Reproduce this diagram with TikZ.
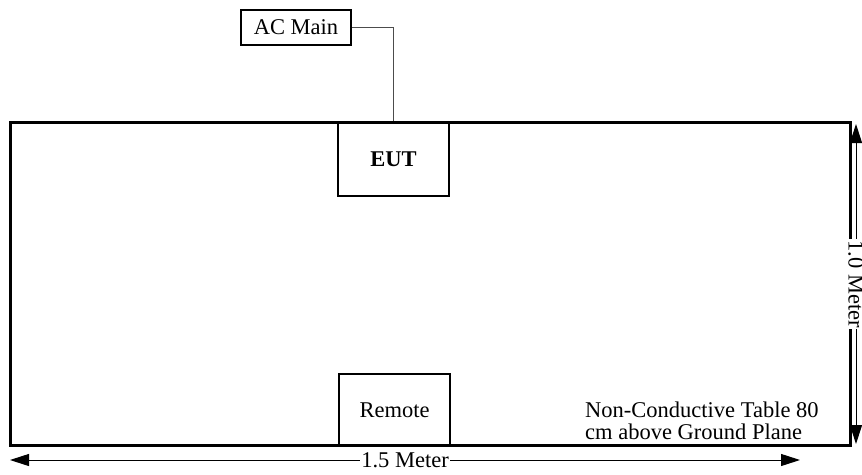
\documentclass[tikz,border=0pt]{standalone}
\usepackage{fontspec}
\setmainfont{Liberation Serif}
\usetikzlibrary{arrows.meta}
\begin{document}
\begin{tikzpicture}[x=1pt,y=-1pt,
  every node/.style={font=\fontsize{22.5}{21.5}\selectfont},
  box/.style={draw,line width=1.1pt,inner sep=0pt},
  tablebox/.style={draw,line width=3pt,inner sep=0pt,minimum width=839.5pt,minimum height=323pt},
  wire/.style={draw,line width=0.8pt,black!70},
  dim/.style={line width=1pt,{Triangle[length=19pt,width=12pt]}-{Triangle[length=19pt,width=12pt]}},
  dimlabel/.style={fill=white,inner sep=1pt}]
\useasboundingbox (0,0) rectangle (862,474);
\node[tablebox] (table) at (430.25,284) {};
\node[box,minimum width=111pt,minimum height=74pt] (eut) at (393.5,159) {\bfseries EUT};
\node[box,minimum width=111pt,minimum height=72pt] (remote) at (394.5,410) {Remote};
\node[box,minimum width=110pt,minimum height=35pt] (ac) at (296,27.5) {AC Main};
\draw[wire] (ac.east) -| (eut.north);
\node[anchor=north west,align=left,inner sep=0pt] (note) at (585,402) {Non-Conductive Table 80\\cm above Ground Plane};
\coordinate (vtop) at (856,124);
\coordinate (vbot) at (856,444);
\coordinate (hleft) at (10,460);
\coordinate (hright) at (800,460);
\draw[dim] (vtop) -- (vbot) node[midway,dimlabel,rotate=-90] (vlabel) {1.0 Meter};
\draw[dim] (hleft) -- (hright) node[midway,dimlabel] (hlabel) {1.5 Meter};
\end{tikzpicture}
\end{document}
